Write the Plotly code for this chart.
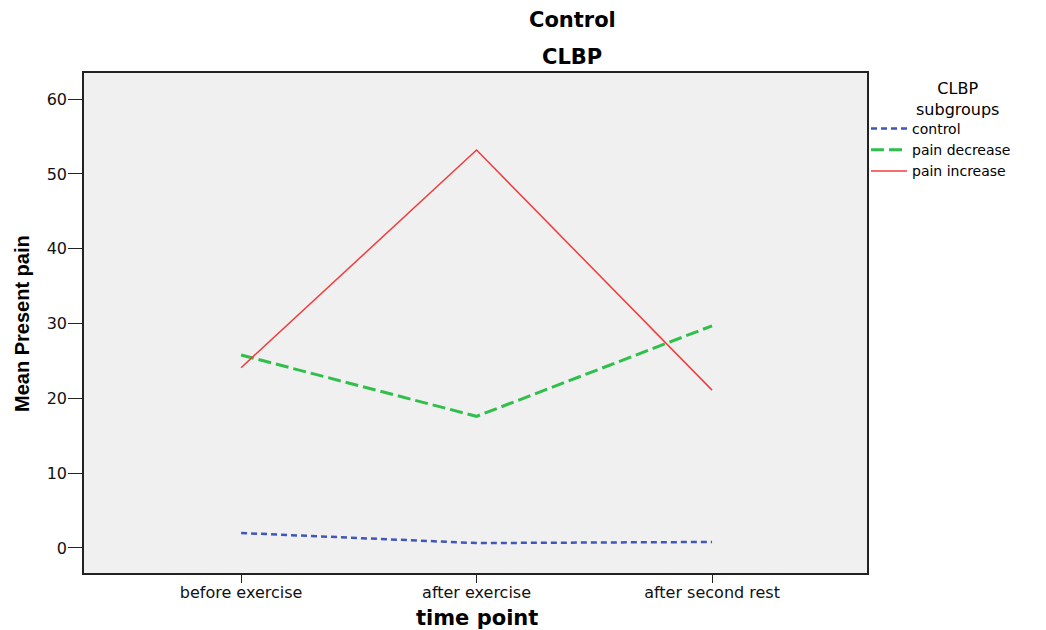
import plotly.graph_objects as go

time_points = ["before exercise", "after exercise", "after second rest"]
control = [2.0, 0.65, 0.8]
pain_decrease = [25.8, 17.6, 29.7]
pain_increase = [24.1, 53.2, 21.1]

# page body adds an ~8px offset; design in screenshot pixels and convert
S = 8
W, H = 1046, 630
L, T = 84 - S, 73 - S
PR, PB = 867 - S, 573 - S
pw, ph = PR - L, PB - T


def px(x):
    return (x - S - L) / pw


def py(y):
    return 1 - (y - S - T) / ph


fig = go.Figure()
fig.add_trace(go.Scatter(x=time_points, y=control, mode="lines", name="control",
                         line=dict(color="#3f57b8", width=2.5, dash="6px,4px")))
fig.add_trace(go.Scatter(x=time_points, y=pain_decrease, mode="lines", name="pain decrease",
                         line=dict(color="#2fbf4b", width=3, dash="13px,5px")))
fig.add_trace(go.Scatter(x=time_points, y=pain_increase, mode="lines", name="pain increase",
                         line=dict(color="#f23c3c", width=1.5)))

font = "DejaVu Sans, Verdana, sans-serif"


def ann(text, x, y, size, family=font, angle=0):
    return dict(text=text, x=px(x), y=py(y), xref="paper", yref="paper",
                xanchor="center", yanchor="middle", showarrow=False, textangle=angle,
                align="center",
                font=dict(size=size, family=family, color="black"))


fig.update_layout(
    width=W, height=H,
    margin=dict(l=L, r=W - PR, t=T, b=H - PB, autoexpand=False),
    paper_bgcolor="white", plot_bgcolor="#f0f0f0",
    font=dict(family=font, color="black", size=15),
    showlegend=True,
    legend=dict(x=px(866), xanchor="left", y=py(113), yanchor="top",
                bgcolor="rgba(0,0,0,0)", font=dict(size=14), itemwidth=36,
                tracegroupgap=0),
    xaxis=dict(type="category", range=[-0.667, 2.658], showgrid=False, zeroline=False,
               automargin=False,
               showline=True, mirror=True, linecolor="#222", linewidth=1.5,
               ticks="outside", ticklen=8, tickcolor="#222", ticklabelstandoff=-4,
               tickfont=dict(size=16, color="#111")),
    yaxis=dict(range=[-3.35, 63.5], tickvals=[0, 10, 20, 30, 40, 50, 60],
               showgrid=False, zeroline=False, automargin=False,
               showline=True, mirror=True, linecolor="#222", linewidth=1.5,
               ticks="outside", ticklen=14, tickcolor="#222", ticklabelstandoff=-2,
               tickfont=dict(size=16, color="#111")),
    annotations=[
        ann("<b>Control</b>", 572, 20, 21),
        ann("<b>CLBP</b>", 572, 57, 21),
        ann("<b>time point</b>", 477, 618, 21),
        ann("<b>Mean Present pain</b>", 22, 324, 20,
            family="Liberation Sans Narrow, Liberation Sans, Arial, sans-serif", angle=-90),
        ann("CLBP<br>subgroups", 957, 99, 16),
    ],
)
fig.write_html("out.html")
